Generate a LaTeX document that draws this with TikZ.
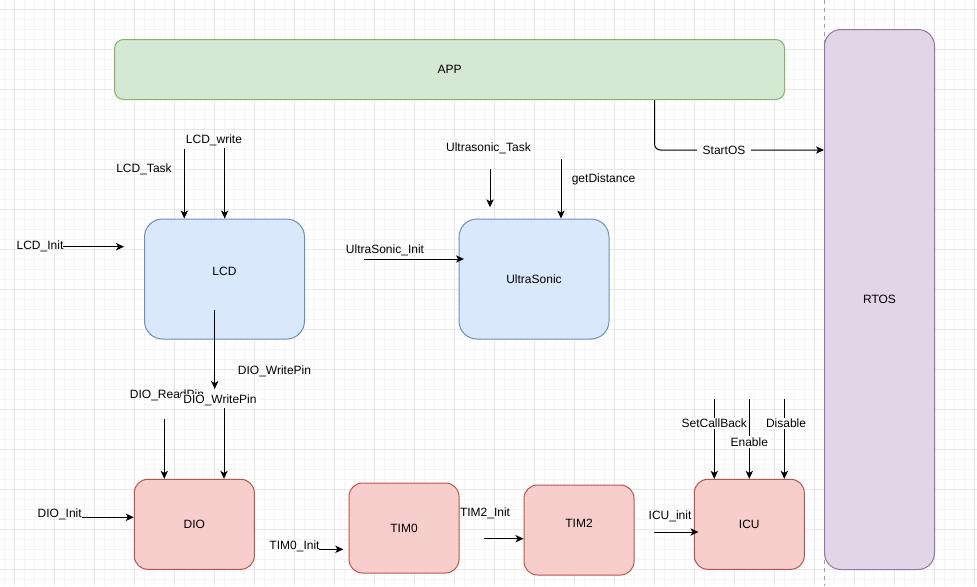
\documentclass[tikz,border=0pt]{standalone}
\usepackage{fontspec}
\setmainfont{Liberation Sans}
\usetikzlibrary{arrows.meta,calc}
\definecolor{greenfill}{HTML}{D5E8D4}
\definecolor{greenline}{HTML}{82B366}
\definecolor{bluefill}{HTML}{DAE8FC}
\definecolor{blueline}{HTML}{6C8EBF}
\definecolor{redfill}{HTML}{F8CECC}
\definecolor{redline}{HTML}{B85450}
\definecolor{purplefill}{HTML}{E1D5E7}
\definecolor{purpleline}{HTML}{9673A6}
\definecolor{gridmajor}{HTML}{E6E6E6}
\definecolor{gridminor}{HTML}{F4F4F4}
\definecolor{sepline}{HTML}{A0A0A0}
\begin{document}
\begin{tikzpicture}[x=0.75pt,y=-0.75pt,
  font=\fontsize{9pt}{11pt}\selectfont,
  box/.style={line width=0.75pt, inner sep=0pt},
  greenbox/.style={box, fill=greenfill, draw=greenline},
  bluebox/.style={box, fill=bluefill, draw=blueline},
  redbox/.style={box, fill=redfill, draw=redline},
  purplebox/.style={box, fill=purplefill, draw=purpleline},
  arr/.style={line width=0.75pt, draw=black, -{Stealth[length=6pt,width=5.5pt,inset=1.6pt]}},
  txt/.style={inner sep=1pt},
  lbl/.style={inner xsep=1.5pt, inner ysep=1pt, fill=white},
  gmin/.style={draw=gridminor, line width=0.75pt},
  gmaj/.style={draw=gridmajor, line width=0.75pt}
]
\useasboundingbox (0,0) rectangle (977,586);
\fill[white] (0,0) rectangle (977,586);
% grid
\foreach \x in {4,14,...,974} \draw[gmin] (\x,0) -- (\x,586);
\foreach \y in {9,19,...,579} \draw[gmin] (0,\y) -- (977,\y);
\foreach \x in {14,54,...,974} \draw[gmaj] (\x,0) -- (\x,586);
\foreach \y in {9,49,...,569} \draw[gmaj] (0,\y) -- (977,\y);
% separator
\draw[sepline, line width=0.75pt, dash pattern=on 3pt off 3pt] (824.5,0) -- (824.5,586);

% boxes
\node[greenbox, minimum width=502.5pt, minimum height=45pt, rounded corners=6.75pt] (app) at (449.6,69.5) {APP};
\node[purplebox, minimum width=82.5pt, minimum height=405pt, rounded corners=12.4pt] (rtos) at (879.5,299.5) {RTOS};
\node[bluebox, minimum width=120pt, minimum height=90pt, rounded corners=13.5pt,
      label={[name=lcdtext, yshift=6pt]center:LCD}] (lcd) at (224.5,279) {};
\node[bluebox, minimum width=112.5pt, minimum height=90pt, rounded corners=13.5pt] (us) at (534,279) {UltraSonic};
\node[redbox, minimum width=90pt, minimum height=67.5pt, rounded corners=10.1pt] (dio) at (194.3,524.3) {DIO};
\node[redbox, minimum width=82.5pt, minimum height=67.5pt, rounded corners=10.1pt] (tim0) at (404,528) {TIM0};
\node[redbox, minimum width=82.5pt, minimum height=67.5pt, rounded corners=10.1pt,
      label={[name=tim2text, yshift=5pt]center:TIM2}] (tim2) at (579,530) {};
\node[redbox, minimum width=82.5pt, minimum height=67.5pt, rounded corners=10.1pt] (icu) at (749.3,524.3) {ICU};

% coordinates for free ends
\coordinate (ltask) at (184.3,149);
\coordinate (lwrite) at (224.7,148);
\coordinate (linitA) at (63,246.7);
\coordinate (linitB) at (124,246.7);
\coordinate (ldownA) at (214.7,310);
\coordinate (ldownB) at (214.7,389);
\coordinate (dread) at (164.3,419);
\coordinate (dwrite) at (224,408);
\coordinate (dinit) at (82,517.3);
\coordinate (t0A) at (319,549.3);
\coordinate (t0B) at (343.3,549.3);
\coordinate (t2A) at (484.3,538.7);
\coordinate (icuA) at (654,532);
\coordinate (icuB) at (698.5,532);
\coordinate (scb) at (714.3,399.3);
\coordinate (ena) at (749.3,399.3);
\coordinate (dis) at (784.3,399.3);
\coordinate (utask) at (490,169.3);
\coordinate (utaskB) at (490,207.3);
\coordinate (gdist) at (561,159.3);
\coordinate (uinitA) at (364.3,259);
\coordinate (uinitB) at (464,259);
\coordinate (so) at (654.5,150);

% connectors
\draw[arr] (ltask) -- (ltask |- lcd.north);
\draw[arr] (lwrite) -- (lwrite |- lcd.north);
\draw[arr] (linitA) -- (linitB);
\draw[arr] (ldownA) -- (ldownB);
\draw[arr] (dread) -- (dread |- dio.north);
\draw[arr] (dwrite) -- (dwrite |- dio.north);
\draw[arr] (dinit) -- (dinit -| dio.west);
\draw[arr] (t0A) -- (t0B);
\draw[arr] (t2A) -- (t2A -| tim2.west);
\draw[arr] (icuA) -- (icuB);
\draw[arr] (scb) -- (scb |- icu.north);
\draw[arr] (ena) -- (ena |- icu.north);
\draw[arr] (dis) -- (dis |- icu.north);
\draw[arr] (utask) -- (utaskB);
\draw[arr] (gdist) -- (gdist |- us.north);
\draw[arr] (uinitA) -- (uinitB);
\draw[arr, rounded corners=4.5pt] (app.south -| so) |- (rtos.west |- so);

% labels
\node[txt] (tLcdWrite) at (214,140.5) {LCD\_write};
\node[txt] (tLcdTask) at (144,169) {LCD\_Task};
\node[txt] (tLcdInit) at (40,246.7) {LCD\_Init};
\node[txt] (tUTask) at (488.5,148.3) {Ultrasonic\_Task};
\node[txt] (tGDist) at (603.5,179.3) {getDistance};
\node[txt] (tUInit) at (385,250) {UltraSonic\_Init};
\node[txt] (tDWP1) at (274.5,371.7) {DIO\_WritePin};
\node[txt] (tDRP) at (167,395.7) {DIO\_ReadPin};
\node[lbl] (tDWP2) at (220,400.7) {DIO\_WritePin};
\node[txt] (tDInit) at (59.7,514.3) {DIO\_Init};
\node[txt] (tT0Init) at (294.5,546.7) {TIM0\_Init};
\node[txt] (tT2Init) at (485,513.3) {TIM2\_Init};
\node[txt] (tIcuInit) at (670,516.7) {ICU\_init};
\node[lbl] (tScb) at (714.3,423.3) {SetCallBack};
\node[lbl] (tEna) at (749.3,442) {Enable};
\node[lbl] (tDis) at (786,423.3) {Disable};
\node[lbl, inner xsep=4.5pt] (tStart) at (724,150) {StartOS};
\end{tikzpicture}
\end{document}
